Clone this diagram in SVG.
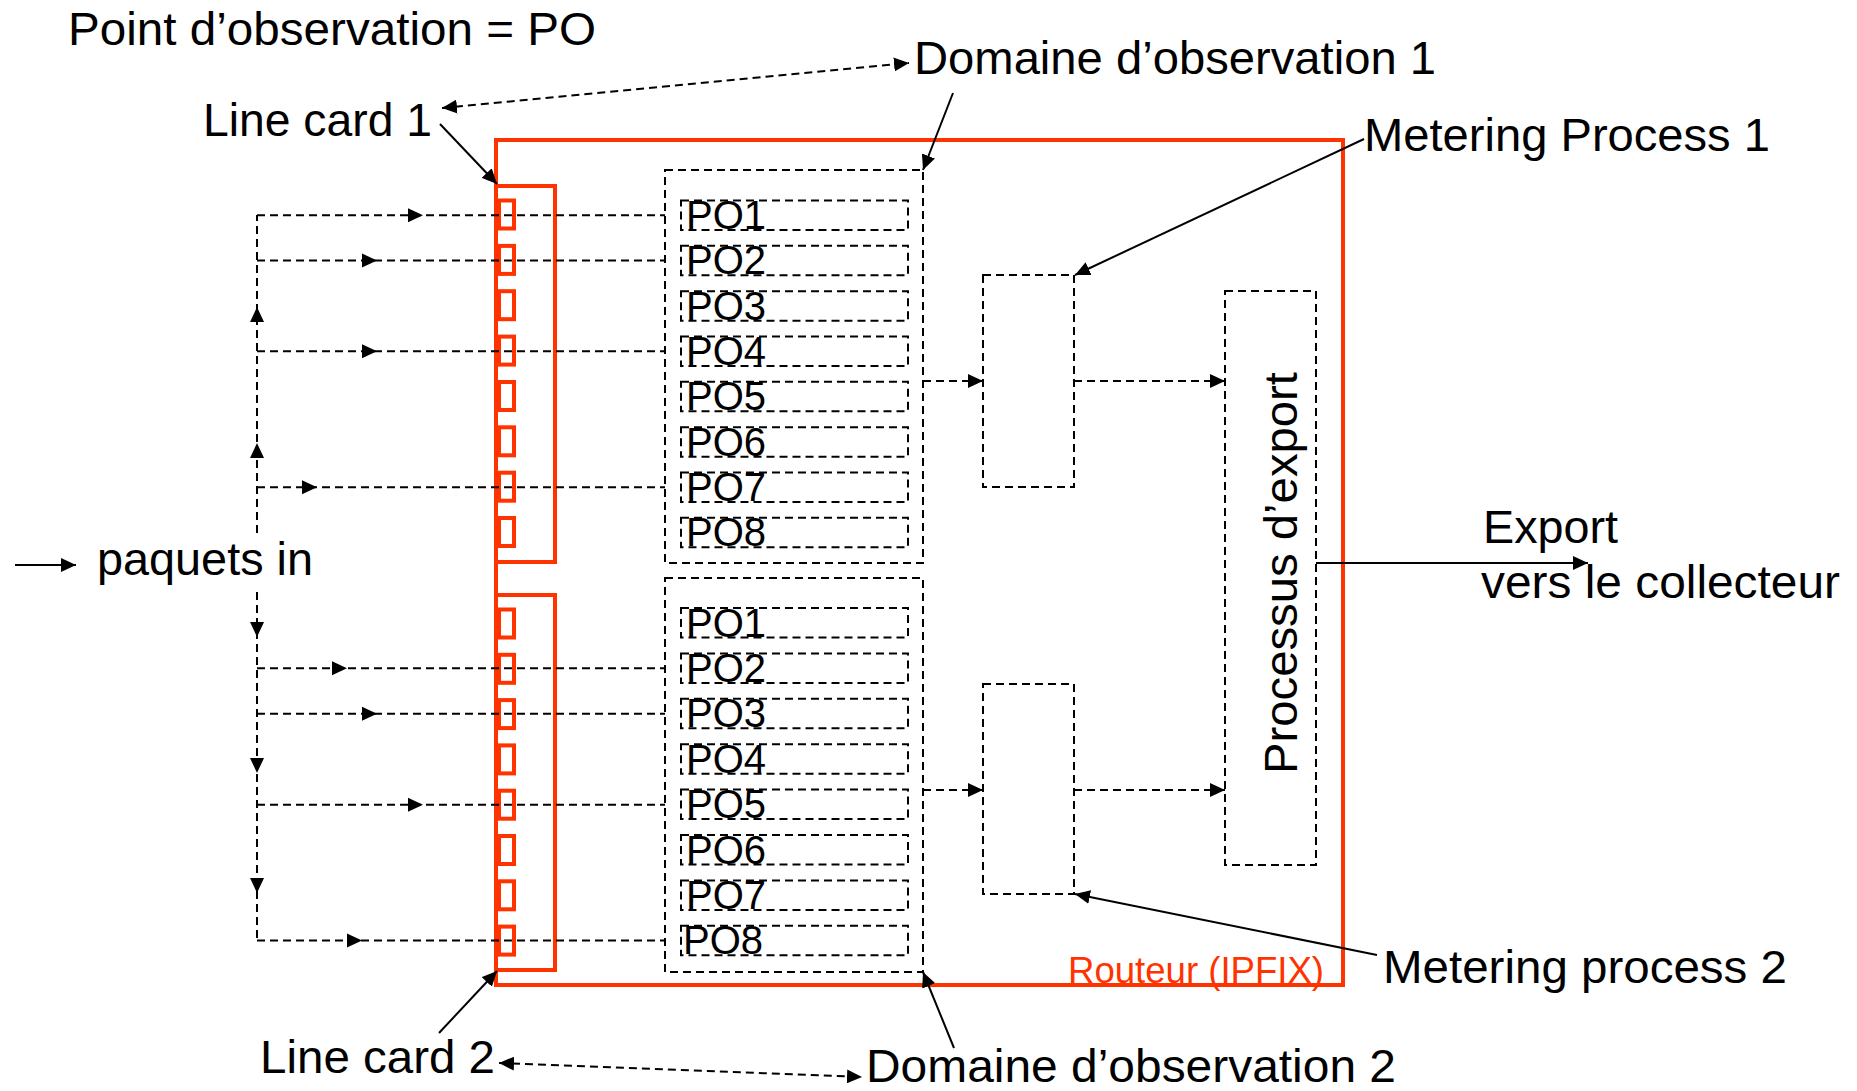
<svg xmlns="http://www.w3.org/2000/svg" xmlns:xlink="http://www.w3.org/1999/xlink" width="1857" height="1091" viewBox="0 0 1857 1091">
<style>
  .lbl { font-family: "Liberation Sans", Arial, sans-serif; font-size: 47px; fill: #000; }
  .po { font-family: "Liberation Sans", Arial, sans-serif; font-size: 40px; fill: #000; }
  .red { fill: none; stroke: #ff3300; stroke-width: 4; }
  .dash { fill: none; stroke: #000; stroke-width: 2; stroke-dasharray: 8 5; }
  .solid { fill: none; stroke: #000; stroke-width: 2; }
</style>
<defs>
  <marker id="arr" markerUnits="userSpaceOnUse" markerWidth="16" markerHeight="14" refX="15" refY="7" orient="auto-start-reverse" viewBox="0 0 16 14">
    <path d="M0,0 L15,7 L0,14 z" fill="#000"/>
  </marker>
  <path id="ah" d="M-15,-7 L0,0 L-15,7 z" fill="#000"/>
</defs>
<rect width="1857" height="1091" fill="#fff"/>

<g id="router">
  <rect class="red" x="496" y="140" width="847" height="845"/>
  <text x="1068" y="983" font-family="Liberation Sans, Arial, sans-serif" font-size="36" fill="#ff3300" textLength="256" lengthAdjust="spacingAndGlyphs">Routeur (IPFIX)</text>
</g>

<g id="linecard1">
  <rect class="red" x="496" y="186" width="59" height="376"/>
  <rect class="red" x="499" y="200.5" width="15" height="28"/>
  <rect class="red" x="499" y="245.9" width="15" height="28"/>
  <rect class="red" x="499" y="291.2" width="15" height="28"/>
  <rect class="red" x="499" y="336.6" width="15" height="28"/>
  <rect class="red" x="499" y="382" width="15" height="28"/>
  <rect class="red" x="499" y="427.3" width="15" height="28"/>
  <rect class="red" x="499" y="472.7" width="15" height="28"/>
  <rect class="red" x="499" y="518" width="15" height="28"/>
</g>
<g id="linecard2">
  <rect class="red" x="496" y="595" width="59" height="375"/>
  <rect class="red" x="499" y="609.5" width="15" height="28"/>
  <rect class="red" x="499" y="654.8" width="15" height="28"/>
  <rect class="red" x="499" y="700.1" width="15" height="28"/>
  <rect class="red" x="499" y="745.4" width="15" height="28"/>
  <rect class="red" x="499" y="790.7" width="15" height="28"/>
  <rect class="red" x="499" y="836" width="15" height="28"/>
  <rect class="red" x="499" y="881.3" width="15" height="28"/>
  <rect class="red" x="499" y="926.6" width="15" height="28"/>
</g>

<g id="domain1">
  <rect class="dash" x="665" y="170" width="258" height="393"/>
  <rect class="dash" x="681" y="200.5" width="227" height="29.5"/>
  <rect class="dash" x="681" y="245.8" width="227" height="29.5"/>
  <rect class="dash" x="681" y="291.2" width="227" height="29.5"/>
  <rect class="dash" x="681" y="336.5" width="227" height="29.5"/>
  <rect class="dash" x="681" y="381.8" width="227" height="29.5"/>
  <rect class="dash" x="681" y="427.2" width="227" height="29.5"/>
  <rect class="dash" x="681" y="472.5" width="227" height="29.5"/>
  <rect class="dash" x="681" y="517.8" width="227" height="29.5"/>
  <text class="po" x="686" y="229">PO1</text>
  <text class="po" x="686" y="274.3">PO2</text>
  <text class="po" x="686" y="319.7">PO3</text>
  <text class="po" x="686" y="365">PO4</text>
  <text class="po" x="686" y="410.3">PO5</text>
  <text class="po" x="686" y="455.7">PO6</text>
  <text class="po" x="686" y="501">PO7</text>
  <text class="po" x="686" y="546.3">PO8</text>
</g>
<g id="domain2">
  <rect class="dash" x="665" y="578" width="258" height="394"/>
  <rect class="dash" x="681" y="608" width="227" height="29.5"/>
  <rect class="dash" x="681" y="653.4" width="227" height="29.5"/>
  <rect class="dash" x="681" y="698.8" width="227" height="29.5"/>
  <rect class="dash" x="681" y="744.2" width="227" height="29.5"/>
  <rect class="dash" x="681" y="789.6" width="227" height="29.5"/>
  <rect class="dash" x="681" y="835" width="227" height="29.5"/>
  <rect class="dash" x="681" y="880.4" width="227" height="29.5"/>
  <rect class="dash" x="681" y="925.8" width="227" height="29.5"/>
  <text class="po" x="686" y="636.5">PO1</text>
  <text class="po" x="686" y="681.9">PO2</text>
  <text class="po" x="686" y="727.3">PO3</text>
  <text class="po" x="686" y="772.7">PO4</text>
  <text class="po" x="686" y="818.1">PO5</text>
  <text class="po" x="686" y="863.5">PO6</text>
  <text class="po" x="686" y="908.9">PO7</text>
  <text class="po" x="683" y="954.3">PO8</text>
</g>

<g id="metering1">
  <rect class="dash" x="983" y="275" width="91" height="212"/>
</g>
<g id="metering2">
  <rect class="dash" x="983" y="684" width="91" height="210"/>
</g>
<g id="export-process">
  <rect class="dash" x="1225" y="291" width="91" height="574"/>
  <text class="lbl" transform="translate(1297,573) rotate(-90)" text-anchor="middle" textLength="402" lengthAdjust="spacingAndGlyphs">Processus d’export</text>
</g>

<g id="labels">
  <text class="lbl" x="68" y="45" font-size="45" textLength="528" lengthAdjust="spacingAndGlyphs">Point d’observation = PO</text>
  <text class="lbl" x="203" y="136" textLength="229" lengthAdjust="spacingAndGlyphs">Line card 1</text>
  <text class="lbl" x="914" y="74" textLength="522" lengthAdjust="spacingAndGlyphs">Domaine d’observation 1</text>
  <text class="lbl" x="1364" y="151" textLength="406" lengthAdjust="spacingAndGlyphs">Metering Process 1</text>
  <text class="lbl" x="97" y="575" textLength="216" lengthAdjust="spacingAndGlyphs">paquets in</text>
  <text class="lbl" x="1483" y="543" textLength="135" lengthAdjust="spacingAndGlyphs">Export</text>
  <text class="lbl" x="1481" y="598" textLength="359" lengthAdjust="spacingAndGlyphs">vers le collecteur</text>
  <text class="lbl" x="1383" y="983" textLength="404" lengthAdjust="spacingAndGlyphs">Metering process 2</text>
  <text class="lbl" x="260" y="1073" textLength="235" lengthAdjust="spacingAndGlyphs">Line card 2</text>
  <text class="lbl" x="866" y="1082" font-size="46" textLength="530" lengthAdjust="spacingAndGlyphs">Domaine d’observation 2</text>
</g>

<g id="connectors">
  <path class="dash" d="M257,533 L257,215"/>
  <path class="dash" d="M257,592 L257,941"/>
  <use xlink:href="#ah" transform="translate(257,307) rotate(-90)"/>
  <use xlink:href="#ah" transform="translate(257,443) rotate(-90)"/>
  <use xlink:href="#ah" transform="translate(257,637) rotate(90)"/>
  <use xlink:href="#ah" transform="translate(257,773) rotate(90)"/>
  <use xlink:href="#ah" transform="translate(257,893) rotate(90)"/>
  <path class="dash" d="M257,215.3 L665,215.3"/>
  <path class="dash" d="M257,260.5 L665,260.5"/>
  <path class="dash" d="M257,351.3 L665,351.3"/>
  <path class="dash" d="M257,487.3 L665,487.3"/>
  <use xlink:href="#ah" transform="translate(423,215.3)"/>
  <use xlink:href="#ah" transform="translate(377,260.5)"/>
  <use xlink:href="#ah" transform="translate(377,351.3)"/>
  <use xlink:href="#ah" transform="translate(317,487.3)"/>
  <path class="dash" d="M257,668.2 L665,668.2"/>
  <path class="dash" d="M257,713.8 L665,713.8"/>
  <path class="dash" d="M257,804.8 L665,804.8"/>
  <path class="dash" d="M257,940.6 L665,940.6"/>
  <use xlink:href="#ah" transform="translate(347,668.2)"/>
  <use xlink:href="#ah" transform="translate(377,713.8)"/>
  <use xlink:href="#ah" transform="translate(423,804.8)"/>
  <use xlink:href="#ah" transform="translate(362,940.6)"/>
  <path class="dash" d="M923,381 L983,381" marker-end="url(#arr)"/>
  <path class="dash" d="M1074,381 L1225,381" marker-end="url(#arr)"/>
  <path class="dash" d="M923,790 L983,790" marker-end="url(#arr)"/>
  <path class="dash" d="M1074,790 L1225,790" marker-end="url(#arr)"/>
  <path class="solid" d="M15,565 L76,565" marker-end="url(#arr)"/>
  <path class="solid" d="M1316,563 L1588,563" marker-end="url(#arr)"/>
  <path class="solid" d="M440,124 L497,184" marker-end="url(#arr)"/>
  <path class="solid" d="M953,93 L923,170" marker-end="url(#arr)"/>
  <path class="solid" d="M1364,139 L1075,275" marker-end="url(#arr)"/>
  <path class="solid" d="M1377,955 L1075,894" marker-end="url(#arr)"/>
  <path class="solid" d="M439,1033 L497,971" marker-end="url(#arr)"/>
  <path class="solid" d="M954,1048 L923,972" marker-end="url(#arr)"/>
  <path class="dash" d="M442,108 L909,63" marker-start="url(#arr)" marker-end="url(#arr)"/>
  <path class="dash" d="M499,1063 L862,1077" marker-start="url(#arr)" marker-end="url(#arr)"/>
</g>
</svg>
